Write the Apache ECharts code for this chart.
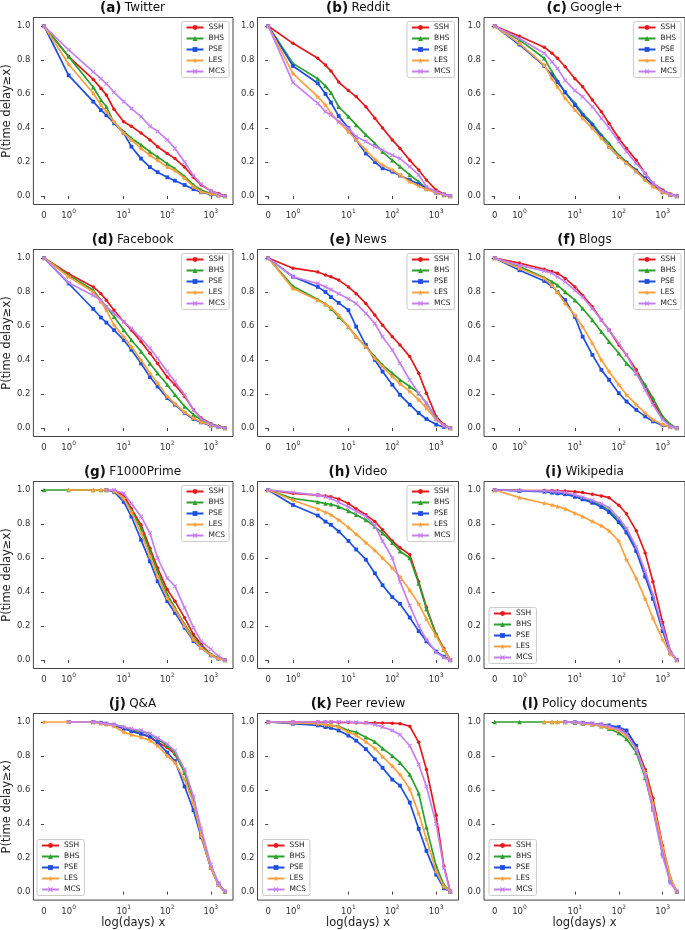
<!DOCTYPE html>
<html><head><meta charset="utf-8">
<script src="https://cdn.jsdelivr.net/npm/echarts@6/dist/echarts.min.js"></script>
<style>html,body{margin:0;padding:0;background:#fff}#c{width:685px;height:930px}</style>
</head><body><div id="c"></div>
<script>
// ---------- data ----------
const days = [0,1,2,3,4,6,10,15,25,40,60,100,150,250,400,600,1000,1500,2100];
const methods = ['SSH','BHS','PSE','LES','MCS'];
const panelLetters = ['(a)','(b)','(c)','(d)','(e)','(f)','(g)','(h)','(i)','(j)','(k)','(l)'];
const panelNames = ['Twitter','Reddit','Google+','Facebook','News','Blogs','F1000Prime','Video','Wikipedia','Q&A','Peer review','Policy documents'];
const xTickValues = [0,1,10,100,1000];
const xTickExponents = [null,0,1,2,3];
const yTickValues = [0,0.2,0.4,0.6,0.8,1.0];
const yAxisTitle = 'P(time delay≥x)';
const xAxisTitle = 'log(days) x';

const twitterSSH = [1,0.82,0.686,0.633,0.594,0.51,0.437,0.41,0.37,0.33,0.29,0.25,0.22,0.17,0.11,0.065,0.03,0.015,0];
const twitterBHS = [1,0.82,0.64,0.565,0.525,0.43,0.38,0.34,0.30,0.26,0.23,0.19,0.16,0.115,0.065,0.035,0.015,0.006,0];
const twitterPSE = [1,0.71,0.555,0.505,0.475,0.43,0.37,0.29,0.22,0.17,0.14,0.11,0.09,0.065,0.04,0.022,0.01,0.004,0];
const twitterLES = [1,0.775,0.604,0.535,0.496,0.437,0.37,0.33,0.28,0.24,0.21,0.17,0.15,0.104,0.055,0.025,0.012,0.004,0];
const twitterMCS = [1,0.86,0.73,0.69,0.66,0.61,0.555,0.515,0.467,0.41,0.38,0.33,0.28,0.20,0.12,0.07,0.03,0.01,0];

const redditSSH = [1,0.898,0.81,0.77,0.735,0.67,0.62,0.585,0.525,0.457,0.40,0.33,0.28,0.21,0.153,0.094,0.035,0.012,0];
const redditBHS = [1,0.78,0.69,0.647,0.608,0.525,0.467,0.418,0.36,0.31,0.26,0.21,0.173,0.124,0.084,0.045,0.02,0.006,0];
const redditPSE = [1,0.765,0.663,0.60,0.55,0.47,0.40,0.33,0.25,0.20,0.163,0.143,0.12,0.094,0.07,0.045,0.02,0.006,0];
const redditLES = [1,0.72,0.584,0.535,0.486,0.437,0.378,0.33,0.27,0.216,0.182,0.153,0.124,0.084,0.059,0.039,0.02,0.006,0];
const redditMCS = [1,0.667,0.545,0.496,0.476,0.437,0.398,0.35,0.32,0.29,0.27,0.24,0.22,0.173,0.124,0.055,0.025,0.01,0];

const googleSSH = [1,0.94,0.875,0.84,0.81,0.76,0.69,0.643,0.565,0.496,0.427,0.34,0.28,0.21,0.133,0.075,0.035,0.012,0];
const googleBHS = [1,0.918,0.81,0.73,0.68,0.61,0.545,0.486,0.427,0.36,0.31,0.24,0.20,0.153,0.104,0.065,0.025,0.01,0];
const googlePSE = [1,0.89,0.765,0.71,0.67,0.61,0.535,0.476,0.418,0.35,0.29,0.23,0.196,0.149,0.104,0.065,0.025,0.006,0];
const googleLES = [1,0.898,0.77,0.69,0.643,0.575,0.506,0.457,0.398,0.34,0.29,0.23,0.192,0.143,0.094,0.055,0.02,0.006,0];
const googleMCS = [1,0.927,0.84,0.79,0.75,0.68,0.62,0.584,0.525,0.457,0.40,0.32,0.26,0.192,0.133,0.075,0.03,0.01,0];

const facebookSSH = [1,0.908,0.83,0.79,0.752,0.693,0.625,0.576,0.508,0.44,0.38,0.30,0.254,0.186,0.107,0.059,0.025,0.01,0];
const facebookBHS = [1,0.898,0.81,0.752,0.713,0.654,0.576,0.518,0.45,0.38,0.322,0.254,0.195,0.127,0.078,0.049,0.023,0.01,0];
const facebookPSE = [1,0.85,0.70,0.65,0.62,0.576,0.518,0.46,0.38,0.30,0.244,0.176,0.137,0.088,0.053,0.033,0.014,0.006,0];
const facebookLES = [1,0.89,0.80,0.742,0.693,0.605,0.537,0.478,0.40,0.322,0.264,0.186,0.143,0.092,0.059,0.035,0.016,0.006,0];
const facebookMCS = [1,0.855,0.78,0.752,0.713,0.674,0.625,0.586,0.527,0.469,0.41,0.332,0.273,0.195,0.107,0.055,0.02,0.006,0];

const newsSSH = [1,0.94,0.918,0.90,0.889,0.87,0.83,0.79,0.732,0.664,0.605,0.537,0.488,0.42,0.322,0.205,0.068,0.02,0];
const newsBHS = [1,0.834,0.756,0.73,0.703,0.654,0.596,0.537,0.478,0.42,0.37,0.322,0.283,0.244,0.205,0.146,0.059,0.014,0];
const newsPSE = [1,0.89,0.83,0.80,0.77,0.736,0.693,0.596,0.488,0.40,0.332,0.254,0.195,0.137,0.088,0.053,0.02,0.006,0];
const newsLES = [1,0.82,0.752,0.727,0.709,0.664,0.596,0.537,0.478,0.41,0.361,0.303,0.26,0.215,0.166,0.117,0.049,0.014,0];
const newsMCS = [1,0.89,0.85,0.83,0.814,0.79,0.76,0.732,0.674,0.615,0.537,0.459,0.381,0.283,0.205,0.146,0.053,0.014,0];

const blogsSSH = [1,0.97,0.934,0.92,0.91,0.88,0.83,0.78,0.713,0.635,0.576,0.488,0.43,0.342,0.244,0.156,0.059,0.014,0];
const blogsBHS = [1,0.95,0.885,0.86,0.84,0.80,0.752,0.703,0.635,0.566,0.508,0.44,0.38,0.322,0.254,0.176,0.068,0.02,0];
const blogsPSE = [1,0.928,0.865,0.834,0.80,0.752,0.654,0.537,0.43,0.342,0.283,0.205,0.156,0.107,0.068,0.039,0.016,0.006,0];
const blogsLES = [1,0.94,0.88,0.84,0.80,0.732,0.664,0.596,0.498,0.40,0.332,0.254,0.195,0.137,0.088,0.049,0.02,0.006,0];
const blogsMCS = [1,0.957,0.924,0.91,0.889,0.86,0.81,0.77,0.703,0.635,0.576,0.498,0.43,0.322,0.225,0.137,0.049,0.01,0];

const f1000SSH = [null,null,null,null,null,0.995,0.97,0.89,0.795,0.658,0.541,0.414,0.346,0.248,0.15,0.092,0.033,0.01,0];
const f1000BHS = [1,1,1,1,1,0.994,0.95,0.88,0.775,0.639,0.52,0.385,0.307,0.209,0.131,0.082,0.033,0.01,0];
const f1000PSE = [null,null,null,null,1,0.99,0.93,0.844,0.707,0.58,0.463,0.346,0.277,0.19,0.111,0.072,0.027,0.008,0];
const f1000LES = [null,1,1,1,1,0.994,0.95,0.87,0.746,0.61,0.492,0.365,0.297,0.2,0.121,0.072,0.03,0.008,0];
const f1000MCS = [null,null,null,null,1,1,0.98,0.92,0.844,0.746,0.6,0.482,0.434,0.307,0.19,0.111,0.063,0.023,0];

const videoSSH = [1,0.98,0.97,0.965,0.96,0.947,0.92,0.89,0.854,0.814,0.766,0.70,0.66,0.62,0.46,0.31,0.15,0.068,0];
const videoBHS = [1,0.95,0.93,0.92,0.916,0.902,0.877,0.854,0.824,0.785,0.746,0.69,0.64,0.60,0.45,0.30,0.15,0.06,0];
const videoPSE = [1,0.912,0.85,0.814,0.795,0.756,0.70,0.65,0.59,0.51,0.44,0.37,0.33,0.25,0.17,0.11,0.05,0.02,0];
const videoLES = [1,0.94,0.888,0.869,0.854,0.824,0.78,0.74,0.69,0.645,0.60,0.54,0.49,0.41,0.33,0.24,0.14,0.06,0];
const videoMCS = [1,0.986,0.97,0.96,0.95,0.928,0.90,0.875,0.845,0.79,0.70,0.60,0.46,0.32,0.20,0.12,0.045,0.015,0];

const wikiSSH = [1,0.998,0.997,0.996,0.995,0.994,0.99,0.985,0.975,0.965,0.955,0.91,0.86,0.76,0.63,0.46,0.22,0.05,0];
const wikiBHS = [1,0.997,0.994,0.99,0.986,0.98,0.965,0.95,0.93,0.91,0.88,0.82,0.76,0.65,0.50,0.37,0.18,0.045,0];
const wikiPSE = [1,0.995,0.99,0.984,0.98,0.975,0.96,0.945,0.925,0.90,0.87,0.81,0.75,0.64,0.49,0.36,0.17,0.04,0];
const wikiLES = [1,0.955,0.922,0.912,0.902,0.889,0.863,0.844,0.815,0.79,0.76,0.70,0.59,0.48,0.36,0.245,0.12,0.035,0];
const wikiMCS = [1,0.997,0.994,0.992,0.99,0.985,0.972,0.958,0.94,0.92,0.895,0.835,0.775,0.665,0.52,0.385,0.19,0.05,0];

const qaSSH = [null,null,1,0.995,0.99,0.985,0.965,0.95,0.93,0.91,0.88,0.85,0.81,0.71,0.53,0.34,0.14,0.043,0];
const qaBHS = [null,null,1,0.995,0.99,0.985,0.97,0.955,0.945,0.93,0.90,0.86,0.82,0.70,0.54,0.35,0.14,0.04,0];
const qaPSE = [null,1,1,0.995,0.99,0.98,0.96,0.945,0.93,0.915,0.88,0.82,0.77,0.62,0.48,0.32,0.14,0.045,0];
const qaLES = [1,1,1,0.99,0.985,0.975,0.94,0.925,0.91,0.89,0.86,0.80,0.76,0.66,0.52,0.33,0.14,0.04,0];
const qaMCS = [null,1,1,0.995,0.99,0.985,0.97,0.96,0.95,0.93,0.905,0.87,0.83,0.72,0.56,0.37,0.16,0.05,0];

const peerSSH = [1,1,1,1,1,0.998,0.997,0.996,0.995,0.995,0.994,0.993,0.99,0.975,0.88,0.72,0.45,0.15,0];
const peerBHS = [1,0.995,0.99,0.985,0.98,0.975,0.95,0.94,0.91,0.883,0.844,0.80,0.76,0.69,0.58,0.38,0.15,0.04,0];
const peerPSE = [1,0.99,0.98,0.97,0.965,0.95,0.92,0.89,0.84,0.78,0.73,0.66,0.625,0.525,0.37,0.24,0.10,0.02,0];
const peerLES = [1,0.995,0.99,0.984,0.98,0.97,0.94,0.922,0.883,0.844,0.795,0.74,0.69,0.605,0.46,0.31,0.12,0.03,0];
const peerMCS = [1,1,1,1,1,1,1,0.998,0.995,0.985,0.97,0.95,0.925,0.86,0.75,0.62,0.40,0.14,0];

const policySSH = [null,null,null,null,null,1,0.998,0.995,0.99,0.985,0.975,0.96,0.935,0.86,0.72,0.55,0.27,0.08,0];
const policyBHS = [1,1,1,1,1,1,0.995,0.99,0.985,0.975,0.96,0.935,0.90,0.82,0.67,0.49,0.23,0.07,0];
const policyPSE = [null,null,null,null,null,1,0.998,0.995,0.99,0.985,0.98,0.97,0.95,0.86,0.70,0.50,0.22,0.06,0];
const policyLES = [null,null,1,1,1,1,0.997,0.99,0.985,0.975,0.965,0.95,0.92,0.84,0.70,0.52,0.26,0.08,0];
const policyMCS = [null,null,null,null,null,1,0.998,0.995,0.99,0.985,0.975,0.955,0.93,0.84,0.68,0.48,0.21,0.05,0];

const panelSeries = [
  [twitterSSH,twitterBHS,twitterPSE,twitterLES,twitterMCS],
  [redditSSH,redditBHS,redditPSE,redditLES,redditMCS],
  [googleSSH,googleBHS,googlePSE,googleLES,googleMCS],
  [facebookSSH,facebookBHS,facebookPSE,facebookLES,facebookMCS],
  [newsSSH,newsBHS,newsPSE,newsLES,newsMCS],
  [blogsSSH,blogsBHS,blogsPSE,blogsLES,blogsMCS],
  [f1000SSH,f1000BHS,f1000PSE,f1000LES,f1000MCS],
  [videoSSH,videoBHS,videoPSE,videoLES,videoMCS],
  [wikiSSH,wikiBHS,wikiPSE,wikiLES,wikiMCS],
  [qaSSH,qaBHS,qaPSE,qaLES,qaMCS],
  [peerSSH,peerBHS,peerPSE,peerLES,peerMCS],
  [policySSH,policyBHS,policyPSE,policyLES,policyMCS]
];

// ---------- styling / layout ----------
const FONT = 'DejaVu Sans';
const LS = 1.13; // symlog linear-scale (linthresh = 2)
function symlog(x){ return x <= 2 ? x * LS / 2 : LS + Math.log10(x / 2); }
const colors = ['#e31a1c','#2ca02c','#1f4fe0','#f9a03f','#c57ff0'];
const STAR = 'path://M0,-10L2.9,-4L9.5,-3.1L4.7,1.5L5.9,8.1L0,5L-5.9,8.1L-4.7,1.5L-9.5,-3.1L-2.9,-4Z';
const XMARK = 'path://M-10,-7L-7,-10L0,-3L7,-10L10,-7L3,0L10,7L7,10L0,3L-7,10L-10,7L-3,0Z';
const symbols = ['circle','triangle','rect',STAR,XMARK];
const symbolSizes = [3.5,4.5,3.8,5,4.5];
const legendBottomLeft = [false,false,false,false,false,false,false,false,true,true,true,true];

const colLeft = [32, 257.5, 484];
const GW = 201, GH = 187;
const rowTop = r => 17.5 + 232 * r;
const XMIN = -0.244, XMAX = 4.338;

const grids = [], xAxes = [], yAxes = [], series = [], legends = [], graphics = [];
for (let p = 0; p < 12; p++) {
  const r = Math.floor(p / 3), c = p % 3;
  const left = colLeft[c], top = rowTop(r);
  grids.push({left: left, top: top, width: GW, height: GH, show: true,
    borderColor: '#444', borderWidth: 1, backgroundColor: 'transparent'});
  xAxes.push({
    type: 'value', gridIndex: p, min: XMIN, max: XMAX,
    splitLine: {show: false}, axisLine: {show: false},
    axisTick: {show: true, customValues: xTickValues.map(symlog), length: 3, lineStyle: {color: '#444'}},
    axisLabel: {
      customValues: xTickValues.map(symlog), margin: 4, color: '#333', fontFamily: FONT,
      formatter: function (v) {
        let best = 0, bd = 1e9;
        xTickValues.forEach((t, i) => { const d = Math.abs(symlog(t) - v); if (d < bd) { bd = d; best = i; } });
        const e = xTickExponents[best];
        return e === null ? '{b|' + xTickValues[best] + '}' : '{b|10}{s|' + e + '}';
      },
      rich: {
        b: {fontSize: 8.5, fontFamily: FONT, color: '#333', lineHeight: 12, verticalAlign: 'bottom'},
        s: {fontSize: 6, fontFamily: FONT, color: '#333', lineHeight: 12, verticalAlign: 'top'}
      }
    },
    name: r === 3 ? xAxisTitle : '', nameLocation: 'middle', nameGap: 13,
    nameTextStyle: {fontSize: 11.5, fontFamily: FONT, color: '#222'}
  });
  yAxes.push({
    type: 'value', gridIndex: p, min: -0.05, max: 1.05,
    splitLine: {show: false}, axisLine: {show: false},
    axisTick: {show: true, customValues: yTickValues, length: 3, lineStyle: {color: '#444'}},
    axisLabel: {customValues: yTickValues, margin: 3, fontSize: 8.5, color: '#333', fontFamily: FONT,
      formatter: v => v.toFixed(1)},
    name: c === 0 ? yAxisTitle : '', nameLocation: 'middle', nameGap: 13, nameRotate: 90,
    nameTextStyle: {fontSize: 11.5, fontFamily: FONT, color: '#222'}
  });
  panelSeries[p].forEach((vals, m) => {
    const data = [];
    days.forEach((d, k) => { if (vals[k] !== null) data.push([symlog(d), vals[k]]); });
    series.push({
      type: 'line', name: methods[m], xAxisIndex: p, yAxisIndex: p, data: data,
      symbol: symbols[m], symbolSize: symbolSizes[m], showSymbol: true, showAllSymbol: true,
      lineStyle: {width: 1.7, color: colors[m]}, itemStyle: {color: colors[m]},
      animation: false, silent: true, z: 2 + m
    });
  });
  const lg = {
    orient: 'vertical', data: methods, selectedMode: false,
    itemWidth: 17, itemHeight: 6, itemGap: 3, padding: [2, 4, 2, 4],
    borderColor: '#ccc', borderWidth: 1, borderRadius: 2, backgroundColor: '#fff',
    textStyle: {fontSize: 7.5, fontFamily: FONT, color: '#222'}
  };
  if (legendBottomLeft[p]) { lg.left = left + 5; lg.bottom = 930 - (top + GH) + 5; }
  else { lg.right = 685 - (left + GW) + 4; lg.top = top + 4; }
  legends.push(lg);
  graphics.push({
    type: 'text', x: left + GW / 2, y: top - 9.5, z: 10,
    style: {
      text: '{b|' + panelLetters[p] + '} {n|' + panelNames[p] + '}',
      align: 'center', verticalAlign: 'middle', textAlign: 'center', textVerticalAlign: 'middle',
      fill: '#111',
      rich: {
        b: {fontSize: 13.5, fontWeight: 'bold', fontFamily: FONT, fill: '#111'},
        n: {fontSize: 12, fontFamily: FONT, fill: '#111'}
      }
    }
  });
}

const chart = echarts.init(document.getElementById('c'), null, {renderer: 'canvas'});
chart.setOption({
  animation: false, backgroundColor: '#fff',
  grid: grids, xAxis: xAxes, yAxis: yAxes, series: series, legend: legends, graphic: graphics
});
</script></body></html>
